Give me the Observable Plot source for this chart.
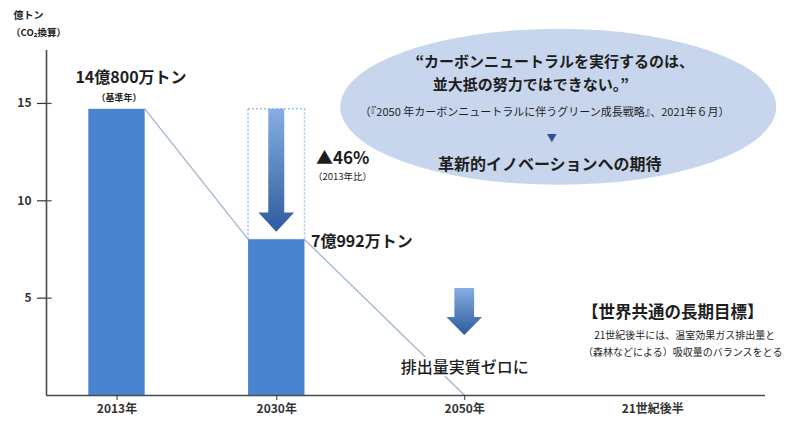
<!DOCTYPE html>
<html><head><meta charset="utf-8">
<script src="https://cdn.jsdelivr.net/npm/d3@7"></script>
<script src="https://cdn.jsdelivr.net/npm/@observablehq/plot@0.6"></script>
<style>
body{margin:0;background:#fff;}
svg{overflow:visible;}
</style>
</head><body><div id="chart"></div>
<script>
// ---- data ----
const years = [2013, 2030];
const emissions = [14.7, 7.99];            // 億トン (CO2換算), as drawn
const barLabels = ["14億800万トン", "7億992万トン"];
const baseYearNote = "（基準年）";
const reductionLabel = ["▲46%", "（2013年比）"];
const zeroYear = 2050;
const zeroValue = 0;
const zeroLabel = "排出量実質ゼロに";
const xTickValues = [2013, 2030, 2050, 2070];
const xTickLabels = ["2013年", "2030年", "2050年", "21世紀後半"];
const yTickValues = [5, 10, 15];
const yAxisLabel = ["億トン", "（CO₂換算）"];
const calloutLines = [
  "“カーボンニュートラルを実行するのは、",
  "並大抵の努力ではできない。”",
  "（『2050 年カーボンニュートラルに伴うグリーン成長戦略』、2021年６月）",
  "▼",
  "革新的イノベーションへの期待"
];
const goalLines = [
  "【世界共通の長期目標】",
  "21世紀後半には、温室効果ガス排出量と",
  "（森林などによる）吸収量のバランスをとる"
];

// ---- styles ----
const FONT = "'Noto Sans CJK JP', 'Noto Sans', sans-serif";
const BAR_COLOR = "#4a84d0";
const BAR_HALF = 3.0;      // half bar width in x units
const TEXT = "#1e1e1e";

const bars = years.map((y, i) => ({year: y, value: emissions[i], label: barLabels[i]}));

const declinePts = [
  {x: years[0] + BAR_HALF, y: emissions[0]},
  {x: years[1] - BAR_HALF, y: emissions[1]},
  {x: years[1] + BAR_HALF, y: emissions[1]},
  {x: zeroYear, y: zeroValue}
];

function downArrow(cx, yTop, yTip, shaftHalf, headHalf, headLen) {
  return [
    {y: yTop, x1: cx - shaftHalf, x2: cx + shaftHalf},
    {y: yTip + headLen, x1: cx - shaftHalf, x2: cx + shaftHalf},
    {y: yTip + headLen, x1: cx - headHalf, x2: cx + headHalf},
    {y: yTip, x1: cx, x2: cx}
  ];
}
const arrow1 = downArrow(years[1], emissions[0], emissions[1] + 0.4, 0.85, 1.9, 0.98);
const arrow2 = downArrow(zeroYear, 5.5, 3.08, 1.05, 1.9, 0.92);

const defs = () => {
  const ns = "http://www.w3.org/2000/svg";
  const d = document.createElementNS(ns, "defs");
  d.innerHTML = `<linearGradient id="arrowGrad" x1="0" y1="0" x2="0" y2="1">
    <stop offset="0" stop-color="#86aee2"/><stop offset="1" stop-color="#2d5b9c"/></linearGradient>`;
  return d;
};
const ellipse = (index, {x, y}) => {
  const el = document.createElementNS("http://www.w3.org/2000/svg", "ellipse");
  el.setAttribute("cx", x(2060));
  el.setAttribute("cy", y(14.8));
  el.setAttribute("rx", 218);
  el.setAttribute("ry", 78);
  el.setAttribute("fill", "#c7d6ec");
  return el;
};

const txt = (s, o) => Plot.text([s], {text: d => d, fontFamily: FONT, fill: TEXT, ...o});
const CX = () => 2060, CY = () => 14.8;

const chart = Plot.plot({
  width: 788,
  height: 422,
  marginLeft: 46,
  marginRight: 23,
  marginTop: 50,
  marginBottom: 27,
  style: {fontFamily: FONT, color: "#333", background: "#fff"},
  x: {type: "linear", domain: [2005.5, 2082]},
  y: {domain: [0, 17.72]},
  marks: [
    defs,
    ellipse,
    Plot.line(declinePts, {x: "x", y: "y", stroke: "#a3b4cf", strokeWidth: 1.3}),
    Plot.rect([0], {x1: years[1] - BAR_HALF, x2: years[1] + BAR_HALF, y1: emissions[1], y2: emissions[0],
      fill: "none", stroke: "#9cc0e6", strokeWidth: 1.5, strokeDasharray: "2,2"}),
    Plot.rectY(bars, {x1: d => d.year - BAR_HALF, x2: d => d.year + BAR_HALF, y1: 0, y2: "value", fill: BAR_COLOR}),
    Plot.areaX(arrow1, {y: "y", x1: "x1", x2: "x2", fill: "url(#arrowGrad)", curve: "linear"}),
    Plot.areaX(arrow2, {y: "y", x1: "x1", x2: "x2", fill: "url(#arrowGrad)", curve: "linear"}),
    // axes
    Plot.ruleX([2005.5], {stroke: "#4a4a4a", strokeWidth: 1.6}),
    Plot.ruleY([0], {stroke: "#4a4a4a", strokeWidth: 1.6}),
    Plot.ruleY(yTickValues, {x1: 2005.5, x2: 2006.1, stroke: "#4a4a4a", strokeWidth: 1.2}),
    Plot.axisY({ticks: yTickValues, tickSize: 9, tickPadding: 6, fontSize: 12, fontWeight: "bold", label: null, strokeWidth: 1.2}),
    Plot.axisX({ticks: [2013, 2030, 2050], tickSize: 5, text: null, label: null}),
    Plot.axisX({ticks: xTickValues, tickSize: 0, tickPadding: 9, fontSize: 12, fontWeight: "bold",
      tickFormat: d => xTickLabels[xTickValues.indexOf(d)], label: null}),
    // y-axis unit label
    txt(yAxisLabel[0], {frameAnchor: "top-left", dx: -18, dy: -35, textAnchor: "middle", lineAnchor: "middle", fontSize: 10, fontWeight: "bold"}),
    txt(yAxisLabel[1], {frameAnchor: "top-left", dx: -8, dy: -18, textAnchor: "middle", lineAnchor: "middle", fontSize: 9.5, fontWeight: "bold"}),
    // bar labels
    txt(bars[0].label, {x: () => bars[0].year, y: () => bars[0].value, dx: 14, dy: -31, fontSize: 16, fontWeight: "bold"}),
    txt(baseYearNote, {x: () => bars[0].year, y: () => bars[0].value, dx: 2, dy: -11, fontSize: 9, fontWeight: "bold"}),
    txt(reductionLabel[0], {x: () => bars[1].year + BAR_HALF, y: () => bars[0].value, dx: 11, dy: 49, textAnchor: "start", fontSize: 17, fontWeight: "bold"}),
    txt(reductionLabel[1], {x: () => bars[1].year + BAR_HALF, y: () => bars[0].value, dx: 8, dy: 68, textAnchor: "start", fontSize: 9.5}),
    txt(bars[1].label, {x: () => bars[1].year + BAR_HALF, y: () => bars[1].value, dx: 6, dy: 2, textAnchor: "start", fontSize: 16, fontWeight: "bold"}),
    // zero label
    txt(zeroLabel, {x: () => zeroYear, y: () => zeroValue, dy: -28, fontSize: 16, fontWeight: 500, stroke: "#fff", strokeWidth: 4, paintOrder: "stroke"}),
    // callout
    txt(calloutLines[0], {x: CX, y: CY, dx: -4, dy: -45, fontSize: 15, fontWeight: "bold"}),
    txt(calloutLines[1], {x: CX, y: CY, dx: -28, dy: -22, fontSize: 15, fontWeight: "bold"}),
    txt(calloutLines[2], {x: CX, y: CY, dx: -14, dy: 5, fontSize: 11}),
    txt(calloutLines[3], {x: CX, y: CY, dx: -7, dy: 31, fontSize: 10, fill: "#2f4f8f"}),
    txt(calloutLines[4], {x: CX, y: CY, dx: -9, dy: 58, fontSize: 16, fontWeight: "bold"}),
    // goal block
    txt(goalLines[0], {x: () => 2070, y: () => 0, dx: 20, dy: -83, fontSize: 16.5, fontWeight: "bold"}),
    txt(goalLines[1], {x: () => 2070, y: () => 0, dx: 32, dy: -60, fontSize: 10}),
    txt(goalLines[2], {x: () => 2070, y: () => 0, dx: 30, dy: -43, fontSize: 10})
  ]
});
document.getElementById("chart").appendChild(chart);
</script>
</body></html>
